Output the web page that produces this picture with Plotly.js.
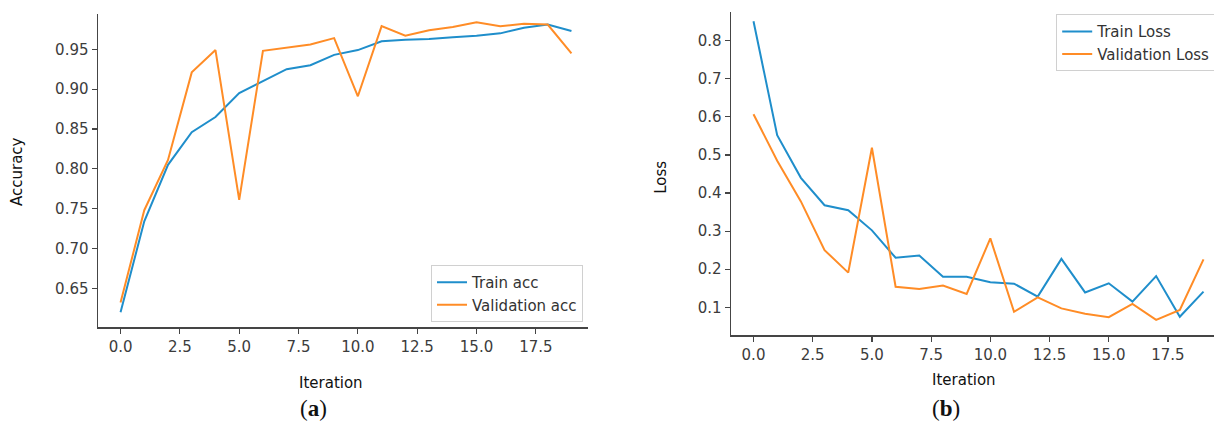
<!DOCTYPE html>
<html>
<head>
<meta charset="utf-8">
<script src="https://cdn.plot.ly/plotly-3.0.1.min.js"></script>
<style>
  html, body { margin: 0; padding: 0; background: #fff; overflow: hidden; }
  #wrapA { position: absolute; left: 0; top: 0; width: 588px; height: 423px; overflow: hidden; }
  #wrapB { position: absolute; left: 610px; top: 0; width: 604px; height: 423px; overflow: hidden; }
  #chartA { width: 600px; height: 423px; }
  #chartB { width: 620px; height: 423px; }
</style>
</head>
<body>
<div id="wrapA"><div id="chartA"></div></div>
<div id="wrapB"><div id="chartB"></div></div>
<script>
// ---- data ----
const iterations = [0,1,2,3,4,5,6,7,8,9,10,11,12,13,14,15,16,17,18,19];
const trainAcc = [0.620, 0.734, 0.805, 0.846, 0.865, 0.895, 0.910, 0.925, 0.930, 0.943, 0.949, 0.960, 0.962, 0.963, 0.965, 0.967, 0.970, 0.977, 0.981, 0.973];
const valAcc   = [0.632, 0.748, 0.811, 0.921, 0.949, 0.761, 0.948, 0.952, 0.956, 0.964, 0.891, 0.979, 0.967, 0.974, 0.978, 0.984, 0.979, 0.982, 0.981, 0.945];
const trainLoss = [0.851, 0.552, 0.440, 0.368, 0.355, 0.302, 0.230, 0.236, 0.180, 0.180, 0.166, 0.162, 0.128, 0.227, 0.139, 0.163, 0.115, 0.182, 0.075, 0.141];
const valLoss   = [0.607, 0.485, 0.378, 0.250, 0.191, 0.519, 0.154, 0.148, 0.157, 0.135, 0.281, 0.088, 0.126, 0.097, 0.083, 0.074, 0.109, 0.067, 0.093, 0.226];
const accNames = ["Train acc", "Validation acc"];
const lossNames = ["Train Loss", "Validation Loss"];
const xLabel = "Iteration";
const accLabel = "Accuracy";
const lossLabel = "Loss";
const captions = ["(<b>a</b>)", "(<b>b</b>)"];

// ---- style ----
const BLUE = "#1f8ecb";
const ORANGE = "#ff8c26";
const FONT = "DejaVu Sans, sans-serif";
const SPINE = "#454545";
const TICKCOL = "#3c3c3c";

function axisX() {
  return {
    range: [-0.95, 19.95], dtick: 2.5, tick0: 0, tickformat: ".1f",
    showgrid: false, zeroline: false, showline: true, linecolor: SPINE, linewidth: 1.5,
    ticks: "outside", ticklen: 5, tickwidth: 1.2, tickcolor: SPINE,
    tickfont: { family: FONT, size: 15, color: TICKCOL }, automargin: false, fixedrange: true
  };
}
function axisY(range, dtick, tick0, fmt) {
  return {
    range: range, dtick: dtick, tick0: tick0, tickformat: fmt,
    showgrid: false, zeroline: false, showline: true, linecolor: SPINE, linewidth: 1.5,
    ticks: "outside", ticklen: 5, tickwidth: 1.2, tickcolor: SPINE,
    tickfont: { family: FONT, size: 15, color: TICKCOL }, automargin: false, fixedrange: true
  };
}
function legendStyle(x, y, xanchor, yanchor) {
  return {
    x: x, y: y, xanchor: xanchor, yanchor: yanchor,
    bgcolor: "rgba(255,255,255,0.9)", bordercolor: "#d0d0d0", borderwidth: 1,
    font: { family: FONT, size: 15, color: "#333" }, tracegroupgap: 0, itemwidth: 30
  };
}
function lineTrace(y, name, color) {
  return { x: iterations, y: y, name: name, type: "scatter", mode: "lines",
           line: { color: color, width: 2 } };
}
function ann(text, x, y, size, family, angle) {
  return { text: text, xref: "paper", yref: "paper", x: x, y: y, showarrow: false,
           xanchor: "center", yanchor: "middle", textangle: angle || 0,
           font: { family: family, size: size, color: "#111" } };
}

// ---- chart (a) ----
// plot area: x 98..594, y 14..327 (page px)
const wA = 496, hA = 313;
const layoutA = {
  width: 600, height: 423,
  margin: { l: 98, r: 6, t: 14, b: 96 },
  paper_bgcolor: "#fff", plot_bgcolor: "#fff",
  showlegend: true,
  legend: legendStyle((431 - 98) / wA, (327 - 322) / hA, "left", "bottom"),
  xaxis: axisX(),
  yaxis: axisY([0.6014, 0.9943], 0.05, 0.65, ".2f"),
  annotations: [
    ann(xLabel, (331 - 98) / wA, (327 - 383) / hA, 15, FONT),
    ann(accLabel, (17 - 98) / wA, (327 - 172) / hA, 15, FONT, -90),
    ann(captions[0], (313 - 98) / wA, (327 - 408) / hA, 23, "Liberation Serif, serif")
  ]
};
Plotly.newPlot("chartA", [lineTrace(trainAcc, accNames[0], BLUE), lineTrace(valAcc, accNames[1], ORANGE)],
  layoutA, { staticPlot: true, displayModeBar: false });

// ---- chart (b) ----
// plot area (div-local): x 121..615.7, y 12.3..335
const wB = 494.7, hB = 322.7;
const layoutB = {
  width: 620, height: 423,
  margin: { l: 121, r: 4.3, t: 12.3, b: 88 },
  paper_bgcolor: "#fff", plot_bgcolor: "#fff",
  showlegend: true,
  legend: legendStyle((1056 - 610 - 121) / wB, (335 - 14.5) / hB, "left", "top"),
  xaxis: axisX(),
  yaxis: axisY([0.0272, 0.8754], 0.1, 0.1, ".1f"),
  annotations: [
    ann(xLabel, (964 - 610 - 121) / wB, (335 - 380) / hB, 15, FONT),
    ann(lossLabel, (661 - 610 - 121) / wB, (335 - 177) / hB, 15, FONT, -90),
    ann(captions[1], (946 - 610 - 121) / wB, (335 - 408) / hB, 23, "Liberation Serif, serif")
  ]
};
Plotly.newPlot("chartB", [lineTrace(trainLoss, lossNames[0], BLUE), lineTrace(valLoss, lossNames[1], ORANGE)],
  layoutB, { staticPlot: true, displayModeBar: false });
</script>
</body>
</html>
